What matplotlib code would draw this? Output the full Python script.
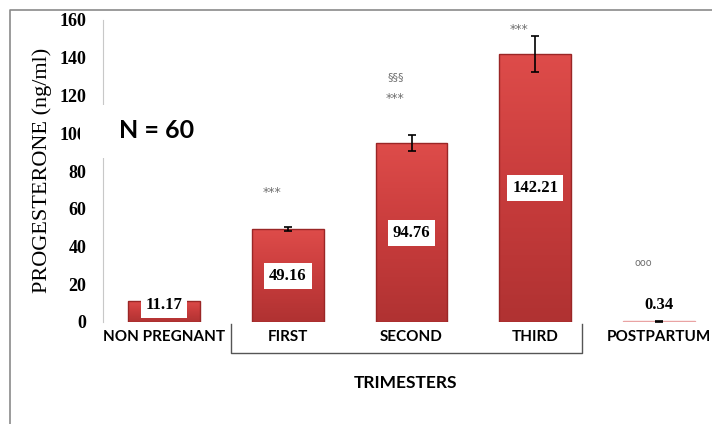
import matplotlib
matplotlib.use("Agg")
import matplotlib.pyplot as plt
import numpy as np
from matplotlib.colors import LinearSegmentedColormap
from matplotlib.lines import Line2D
from matplotlib.patches import Rectangle

# progesterone by pregnancy stage
GROUPS = ["NON PREGNANT", "FIRST", "SECOND", "THIRD", "POSTPARTUM"]
MEANS = [11.17, 49.16, 94.76, 142.21, 0.34]
ERRORS = [0.8, 1.0, 4.4, 9.5, 0.3]
SIG_MARKS = ["", "***", "***", "***", "ooo"]
EXTRA_MARKS = ["", "", "§§§", "", ""]
Y_TICKS = [0, 20, 40, 60, 80, 100, 120, 140, 160]

# layout of the significance marks (data units)
MARK_Y = [None, 68.5, 118.5, 155.0, 31.5]
EXTRA_Y = [None, None, 129.5, None, None]

W, H = 712, 424
fig = plt.figure(figsize=(W / 100, H / 100), dpi=100)
ax = fig.add_axes([103 / W, (H - 322) / H, (W - 103) / W, 302 / H])

x = np.arange(len(GROUPS))
bar_w = 0.58

grad = LinearSegmentedColormap.from_list("bar", ["#b03232", "#c83c3c", "#de4c4a"])
bars = ax.bar(x, MEANS, width=bar_w, color="none", edgecolor="#9a2626",
              linewidth=1.0, zorder=2)
for i, b in enumerate(bars):
    if MEANS[i] < 1:
        b.set_edgecolor("#e9a3a3")
        b.set_facecolor("#e9a3a3")
        continue
    x0, y0 = b.get_x(), b.get_y()
    img = ax.imshow(np.linspace(0, 1, 256).reshape(-1, 1), cmap=grad,
                    origin="lower", aspect="auto", zorder=1.5,
                    extent=(x0, x0 + b.get_width(), y0, y0 + b.get_height()))
    img.set_clip_path(b)
ax.set_xlim(-(164 - 103) / 123.75, (W - 164) / 123.75)
ax.set_ylim(0, 160)

ax.errorbar(x, MEANS, yerr=ERRORS, fmt="none", ecolor="black",
            elinewidth=1.2, capsize=3, capthick=1.2, zorder=3)

# value labels inside the bars
for i, v in enumerate(MEANS):
    ax.text(x[i], max(v / 2, 9), f"{v:.2f}", ha="center", va="center",
            fontsize=12, fontweight="bold", family="Liberation Serif",
            zorder=5,
            bbox=dict(boxstyle="square,pad=0.3", facecolor="white",
                      edgecolor="none"))

for i in range(len(GROUPS)):
    if SIG_MARKS[i]:
        size = 7 if SIG_MARKS[i] == "ooo" else 9
        ax.text(x[i] - 0.13, MARK_Y[i], SIG_MARKS[i], ha="center",
                va="center", fontsize=size, color="#707070")
    if EXTRA_MARKS[i]:
        ax.text(x[i] - 0.13, EXTRA_Y[i], EXTRA_MARKS[i], ha="center",
                va="center", fontsize=8, color="#707070")

ax.set_yticks(Y_TICKS)
ax.set_yticklabels([str(t) for t in Y_TICKS], family="Liberation Serif",
                   fontweight="bold", fontsize=13)
ax.tick_params(axis="y", length=0, pad=12)
ax.set_xticks(x)
ax.set_xticklabels(GROUPS, family="Lato", fontweight="bold", fontsize=11)
ax.tick_params(axis="x", length=0, pad=6)
for s in ("top", "right", "bottom"):
    ax.spines[s].set_visible(False)
ax.spines["left"].set_color("#c8c8c8")
ax.patch.set_visible(False)

fig.text(42 / W, 1 - 170 / H, "PROGESTERONE (ng/ml)", rotation=90,
         ha="center", va="center", family="Liberation Serif", fontsize=16)

# bracket grouping the trimesters
bx = [231 / W, 231 / W, 582 / W, 582 / W]
by = [1 - 324 / H, 1 - 353 / H, 1 - 353 / H, 1 - 324 / H]
fig.add_artist(Line2D(bx, by, color="#555555", linewidth=1.0))
fig.text(405 / W, 1 - 383 / H, "TRIMESTERS", ha="center", va="center",
         family="Lato", fontweight="bold", fontsize=12.5)

# sample size box, covering part of the axis
fig.add_artist(Rectangle((80 / W, 1 - 158 / H), 144 / W, 53 / H,
                         facecolor="white", edgecolor="none", zorder=10))
fig.text(157 / W, 1 - 131 / H, "N = 60", ha="center", va="center",
         family="Lato", fontweight="bold", fontsize=18, zorder=11)

# outer frame
fig.add_artist(Line2D([10 / W, 10 / W, 1.0], [0, 1 - 10 / H, 1 - 10 / H],
                      color="#8a8a8a", linewidth=1.2))

fig.savefig("out.png", dpi=100)
